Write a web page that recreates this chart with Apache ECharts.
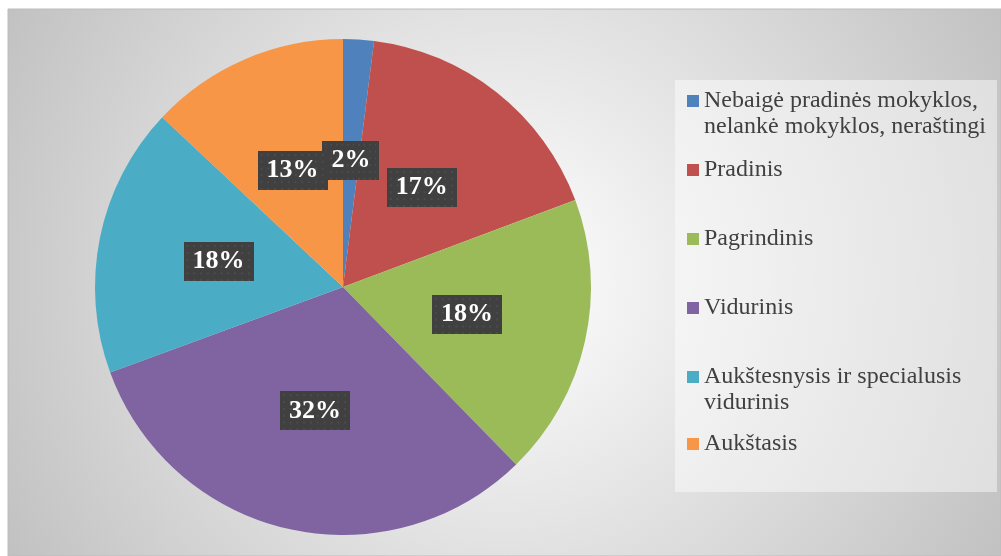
<!DOCTYPE html>
<html>
<head>
<meta charset="utf-8">
<script src="https://cdn.jsdelivr.net/npm/echarts@6/dist/echarts.min.js"></script>
<style>
    html, body { margin: 0; padding: 0; background: #fff; }
    #myChart { width: 1001px; height: 556px; }
</style>
</head>
<body>
<div id="myChart"></div>
<script>
// education level shares, clockwise from 12 o'clock
var categories = [
    'Nebaigė pradinės mokyklos, nelankė mokyklos, neraštingi',
    'Pradinis',
    'Pagrindinis',
    'Vidurinis',
    'Aukštesnysis ir specialusis vidurinis',
    'Aukštasis'
];
var shares = [2.0, 17.3, 18.4, 31.7, 17.6, 13.0];

var legendTops = [62, 157, 226, 295, 338, 431];

// dark dotted box behind the percent labels
function dotPattern() {
    var c = document.createElement('canvas');
    c.width = 72; c.height = 40;
    var g = c.getContext('2d');
    g.fillStyle = '#404040';
    g.fillRect(0, 0, 72, 40);
    g.fillStyle = '#4c4c4c';
    for (var y = 3; y < 40; y += 7) {
        for (var x = 3; x < 72; x += 7) {
            g.fillRect(x, y, 2, 2);
        }
    }
    return c;
}

// two-line legend entries: blank first line keeps the marker on the first text line
function legendText(name) {
    if (name.indexOf('mokyklos, nelankė') > -1)
        return '\n' + name.replace('mokyklos, nelankė', 'mokyklos,\nnelankė');
    if (name.indexOf('specialusis vidurinis') > -1)
        return '\n' + name.replace('specialusis vidurinis', 'specialusis\nvidurinis');
    return name;
}

window.onload = function () {
    var myChart = echarts.init(document.getElementById('myChart'));

    var legends = categories.map(function (name, i) {
        return {
            orient: 'vertical',
            left: 687,
            top: legendTops[i],
            padding: 0,
            icon: 'rect',
            itemWidth: 12,
            itemHeight: 12,
            data: [name],
            formatter: legendText,
            textStyle: {
                fontFamily: 'Liberation Serif',
                fontSize: 24,
                color: '#404040',
                lineHeight: 26
            }
        };
    });

    var option = {
        animation: false,
        color: ['#4F81BD', '#C0504D', '#9BBB59', '#8064A2', '#4BACC6', '#F79646'],
        graphic: [
            {
                type: 'rect',
                shape: { x: 8, y: 9, width: 993, height: 547 },
                style: {
                    fill: new echarts.graphic.RadialGradient(505, 280, 580, [
                        { offset: 0, color: '#ffffff' },
                        { offset: 1, color: '#c0c0c0' }
                    ], true),
                    stroke: '#bcbcbc',
                    lineWidth: 1
                }
            },
            {
                type: 'rect',
                shape: { x: 675, y: 80, width: 322, height: 412 },
                style: { fill: 'rgba(255,255,255,0.45)' }
            }
        ],
        legend: legends,
        series: [
            {
                name: 'Išsilavinimas',
                type: 'pie',
                center: [343, 287],
                radius: 248,
                startAngle: 90,
                clockwise: true,
                avoidLabelOverlap: false,
                minShowLabelAngle: 0,
                labelLayout: { hideOverlap: false },
                data: categories.map(function (name, i) {
                    return { name: name, value: shares[i] };
                }),
                label: {
                    show: true,
                    position: 'inside',
                    formatter: function (p) {
                        return Math.round(p.percent) + '%';
                    },
                    fontFamily: 'Liberation Serif',
                    fontWeight: 'bold',
                    fontSize: 26,
                    lineHeight: 29,
                    color: '#ffffff',
                    padding: [5, 9, 5, 9],
                    backgroundColor: { image: dotPattern() },
                    shadowColor: 'rgba(0,0,0,0.55)',
                    shadowBlur: 6,
                    shadowOffsetX: 3,
                    shadowOffsetY: 3
                },
                labelLine: { show: false },
                emphasis: { scale: false }
            }
        ]
    };

    myChart.setOption(option);
};
</script>
</body>
</html>
